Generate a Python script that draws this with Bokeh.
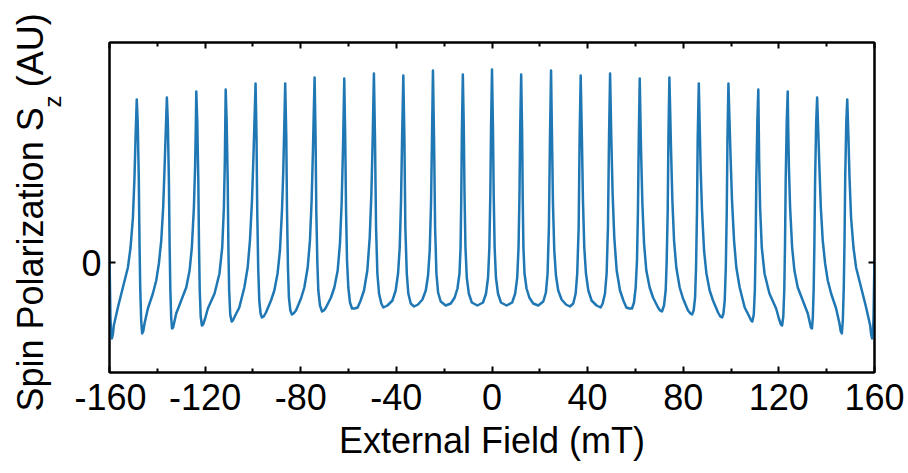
from bokeh.plotting import figure
from bokeh.layouts import row
from bokeh.models import FixedTicker, LinearAxis, Label, Range1d, ColumnDataSource, Title
from bokeh.embed import file_html
from bokeh.resources import INLINE

# ---- data (External field in mT, Sz in AU) ----
field_left = [
    -160.0, -159.6, -159.3, -159.0, -158.6, -158.2, -156.5, -154.4, -152.3, -151.2, -150.2, -149.55, -149.1, -148.6,
    -148.2, -147.75, -147.45, -147.15, -146.75, -146.35, -145.9, -145.35, -143.95, -141.85, -140.45, -139.35, -138.35, -137.55, -137.0, -136.5, -136.0,
    -135.6, -135.15, -134.85, -134.55, -134.2, -133.85, -133.4, -132.1, -130.0, -127.9, -126.5, -125.55, -124.7, -124.2, -123.9, -123.7,
    -123.3, -122.85, -122.55, -122.25, -121.85, -121.35, -120.85, -120.0, -118.85, -116.05, -114.0, -112.85, -112.15, -111.75, -111.4,
    -111.0, -110.55, -110.25, -109.95, -109.5, -108.9, -108.4, -107.2, -105.7, -103.6, -102.2, -101.25, -100.4, -99.8, -99.35, -98.9,
    -98.5, -98.2, -97.8, -97.35, -96.8, -96.25, -95.5, -94.55, -92.45, -91.05, -89.7, -88.7, -87.85, -87.3, -86.9, -86.5,
    -86.05, -85.75, -85.35, -84.95, -84.35, -83.7, -83.0, -82.0, -79.9, -78.5, -77.1, -76.15, -75.45, -74.9, -74.55, -74.2,
    -73.8, -73.5, -73.05, -72.65, -71.95, -71.1, -70.3, -69.45, -67.35, -65.95, -64.55, -63.6, -62.9, -62.35, -62.05, -61.8,
    -61.4, -61.05, -60.65, -60.1, -59.4, -58.55, -57.5, -56.2, -54.95, -53.55, -52.15, -51.15, -50.45, -49.9, -49.4,
    -48.95, -48.5, -47.95, -47.25, -46.3, -45.45, -43.75, -41.65, -40.3, -39.3, -38.6, -38.05, -37.6, -37.1,
    -36.65, -36.25, -35.65, -35.0, -34.0, -32.6, -30.95, -29.1, -27.7, -26.75, -26.05, -25.5, -25.1, -24.7,
    -24.25, -23.8, -23.25, -22.55, -21.45, -19.35, -17.25, -15.6, -14.45, -13.6, -13.15, -12.85, -12.6, -12.2,
    -11.8, -11.5, -11.1, -10.55, -9.7, -8.45, -6.1, -3.75, -2.5, -1.65, -1.1, -0.7, -0.4, 0.0,
]
sz_left = [
    0.05, -0.55, -0.73, -0.76, -0.72, -0.63, -0.45, -0.25, -0.05, 0.15, 0.45, 0.85, 1.25, 1.63,
    1.40, 0.85, 0.20, -0.25, -0.58, -0.71, -0.69, -0.61, -0.46, -0.31, -0.18, -0.01, 0.22, 0.55, 0.92, 1.29, 1.65,
    1.40, 0.82, 0.17, -0.27, -0.55, -0.66, -0.65, -0.51, -0.38, -0.25, -0.08, 0.15, 0.55, 0.95, 1.35, 1.71,
    1.42, 0.82, 0.15, -0.28, -0.54, -0.63, -0.62, -0.56, -0.46, -0.31, -0.11, 0.15, 0.55, 1.02, 1.73,
    1.42, 0.80, 0.12, -0.28, -0.52, -0.59, -0.58, -0.52, -0.45, -0.25, -0.05, 0.22, 0.62, 1.05, 1.42, 1.79,
    1.25, 0.52, -0.05, -0.38, -0.51, -0.55, -0.54, -0.50, -0.38, -0.28, -0.11, 0.12, 0.52, 0.92, 1.35, 1.79,
    1.25, 0.52, -0.05, -0.35, -0.48, -0.52, -0.51, -0.48, -0.36, -0.25, -0.05, 0.22, 0.62, 1.12, 1.50, 1.85,
    1.25, 0.52, -0.01, -0.28, -0.43, -0.49, -0.48, -0.45, -0.35, -0.25, -0.08, 0.19, 0.59, 1.12, 1.50, 1.84,
    1.25, 0.52, 0.02, -0.25, -0.40, -0.46, -0.46, -0.45, -0.38, -0.28, -0.08, 0.25, 0.69, 1.25, 1.89,
    1.25, 0.35, -0.11, -0.31, -0.41, -0.45, -0.43, -0.38, -0.28, -0.11, 0.15, 0.62, 1.25, 1.87,
    1.25, 0.35, -0.11, -0.31, -0.41, -0.44, -0.42, -0.37, -0.28, -0.13, 0.12, 0.59, 1.25, 1.92,
    1.25, 0.35, -0.11, -0.30, -0.39, -0.43, -0.41, -0.35, -0.26, -0.11, 0.15, 0.65, 1.30, 1.88,
    1.35, 0.69, 0.15, -0.15, -0.31, -0.40, -0.43, -0.40, -0.31, -0.15, 0.15, 0.69, 1.35, 1.93,
]
field_right = [
    0.4, 0.7, 1.1, 1.65, 2.5, 3.75, 6.1, 8.45, 9.7, 10.55, 11.1, 11.5, 11.8, 12.2,
    12.6, 12.85, 13.15, 13.6, 14.45, 15.6, 17.25, 19.35, 21.45, 22.55, 23.25, 23.8, 24.25, 24.7,
    25.1, 25.5, 26.05, 26.75, 27.7, 29.1, 30.95, 32.6, 34.0, 35.0, 35.65, 36.25, 36.65, 37.1,
    37.6, 38.05, 38.6, 39.3, 40.3, 41.65, 43.75, 45.45, 46.3, 47.25, 47.95, 48.5, 48.95, 49.4,
    49.9, 50.45, 51.15, 52.15, 53.55, 54.95, 56.2, 57.5, 58.55, 59.4, 60.1, 60.65, 61.05, 61.4, 61.8,
    62.05, 62.35, 62.9, 63.6, 64.55, 65.95, 67.35, 69.45, 70.3, 71.1, 71.95, 72.65, 73.05, 73.5, 73.8, 74.2,
    74.55, 74.9, 75.45, 76.15, 77.1, 78.5, 79.9, 82.0, 83.0, 83.7, 84.35, 84.95, 85.35, 85.75, 86.05, 86.5,
    86.9, 87.3, 87.85, 88.7, 89.7, 91.05, 92.45, 94.55, 95.5, 96.25, 96.8, 97.35, 97.8, 98.2, 98.5, 98.9,
    99.35, 99.8, 100.4, 101.25, 102.2, 103.6, 105.7, 107.2, 108.4, 108.9, 109.5, 109.95, 110.25, 110.55, 111.0, 111.4,
    111.75, 112.15, 112.85, 114.0, 116.05, 118.85, 120.0, 120.85, 121.35, 121.85, 122.25, 122.55, 122.85, 123.3, 123.7,
    123.9, 124.2, 124.7, 125.55, 126.5, 127.9, 130.0, 132.1, 133.4, 133.85, 134.2, 134.55, 134.85, 135.15, 135.6, 136.0,
    136.5, 137.0, 137.55, 138.35, 139.35, 140.45, 141.85, 143.95, 145.35, 145.9, 146.35, 146.75, 147.15, 147.45, 147.75, 148.2, 148.6,
    149.1, 149.55, 150.2, 151.2, 152.3, 154.4, 156.5, 158.2, 158.6, 159.0, 159.3, 159.6, 160.0,
]
sz_right = [
    1.35, 0.69, 0.15, -0.15, -0.31, -0.40, -0.43, -0.40, -0.31, -0.15, 0.15, 0.69, 1.35, 1.88,
    1.30, 0.65, 0.15, -0.11, -0.26, -0.35, -0.41, -0.43, -0.39, -0.30, -0.11, 0.35, 1.25, 1.92,
    1.25, 0.59, 0.12, -0.13, -0.28, -0.37, -0.42, -0.44, -0.41, -0.31, -0.11, 0.35, 1.25, 1.87,
    1.25, 0.62, 0.15, -0.11, -0.28, -0.38, -0.43, -0.45, -0.41, -0.31, -0.11, 0.35, 1.25, 1.89,
    1.25, 0.69, 0.25, -0.08, -0.28, -0.38, -0.45, -0.46, -0.46, -0.40, -0.25, 0.02, 0.52, 1.25, 1.84,
    1.50, 1.12, 0.59, 0.19, -0.08, -0.25, -0.35, -0.45, -0.48, -0.49, -0.43, -0.28, -0.01, 0.52, 1.25, 1.85,
    1.50, 1.12, 0.62, 0.22, -0.05, -0.25, -0.36, -0.48, -0.51, -0.52, -0.48, -0.35, -0.05, 0.52, 1.25, 1.79,
    1.35, 0.92, 0.52, 0.12, -0.11, -0.28, -0.38, -0.50, -0.54, -0.55, -0.51, -0.38, -0.05, 0.52, 1.25, 1.79,
    1.42, 1.05, 0.62, 0.22, -0.05, -0.25, -0.45, -0.52, -0.58, -0.59, -0.52, -0.28, 0.12, 0.80, 1.42, 1.73,
    1.02, 0.55, 0.15, -0.11, -0.31, -0.46, -0.56, -0.62, -0.63, -0.54, -0.28, 0.15, 0.82, 1.42, 1.71,
    1.35, 0.95, 0.55, 0.15, -0.08, -0.25, -0.38, -0.51, -0.65, -0.66, -0.55, -0.27, 0.17, 0.82, 1.40, 1.65,
    1.29, 0.92, 0.55, 0.22, -0.01, -0.18, -0.31, -0.46, -0.61, -0.69, -0.71, -0.58, -0.25, 0.20, 0.85, 1.40, 1.63,
    1.25, 0.85, 0.45, 0.15, -0.05, -0.25, -0.45, -0.63, -0.72, -0.76, -0.73, -0.55, 0.05,
]

x_ticks = [-160, -120, -80, -40, 0, 40, 80, 120, 160]
x_minor_ticks = [-140, -100, -60, -20, 20, 60, 100, 140]
x_tick_labels = ["-160", "-120", "-80", "-40", "0", "40", "80", "120", "160"]
y_ticks = [0]
y_tick_labels = ["0"]

FONT = "Liberation Sans"
BLUE = "#1f77b4"
W, H = 908, 473
TITLE_W = 74                 # strip that holds the rotated y-axis title
TOP, BOTTOM, RIGHT = 42, 101, 34
STRIP_FRAME_LEFT = 30

source = ColumnDataSource(data=dict(field=field_left + field_right, sz=sz_left + sz_right))

p = figure(width=W - TITLE_W, height=H, x_range=Range1d(-160, 160), y_range=Range1d(-1.1, 2.2),
           output_backend="svg", toolbar_location=None,
           min_border_left=109 - TITLE_W, min_border_right=RIGHT,
           min_border_top=TOP, min_border_bottom=BOTTOM)
p.grid.visible = False
p.background_fill_color = "white"
p.border_fill_color = "white"
p.outline_line_color = "black"
p.outline_line_width = 2

p.line("field", "sz", source=source, line_color=BLUE, line_width=2.5, line_join="round")


def style_axis(ax, ticks, minor, labels, show_labels):
    ax.ticker = FixedTicker(ticks=ticks, minor_ticks=minor)
    ax.axis_line_color = "black"
    ax.axis_line_width = 2
    ax.major_tick_in = 6
    ax.major_tick_out = 0
    ax.minor_tick_in = 4
    ax.minor_tick_out = 0
    ax.major_tick_line_width = 2
    ax.minor_tick_line_width = 2
    ax.major_tick_line_color = "black"
    ax.minor_tick_line_color = "black"
    if show_labels:
        ax.major_label_overrides = {t: s for t, s in zip(ticks, labels)}
        ax.major_label_text_font = FONT
        ax.major_label_text_font_size = "36px"
        ax.major_label_text_color = "black"
        ax.major_label_standoff = 11
    else:
        ax.major_label_overrides = {t: "" for t in ticks}
        ax.major_label_text_font_size = "0px"
        ax.major_label_standoff = 0


xb = p.xaxis[0]
style_axis(xb, x_ticks, x_minor_ticks, x_tick_labels, True)
xb.axis_label = "External Field (mT)"
xb.axis_label_text_font = FONT
xb.axis_label_text_font_size = "36px"
xb.axis_label_text_font_style = "normal"
xb.axis_label_text_color = "black"
xb.axis_label_standoff = 7

yl = p.yaxis[0]
style_axis(yl, y_ticks, [], y_tick_labels, True)
yl.major_label_standoff = 8

xt = LinearAxis()
style_axis(xt, x_ticks, x_minor_ticks, x_tick_labels, False)
p.add_layout(xt, "above")

yr = LinearAxis()
style_axis(yr, y_ticks, [], y_tick_labels, False)
p.add_layout(yr, "right")

# ---- strip on the left holding the rotated y-axis title "Spin Polarization S_z (AU)" ----
t = figure(width=TITLE_W, height=H, x_range=Range1d(0, 1), y_range=Range1d(0, 1),
           output_backend="svg", toolbar_location=None,
           x_axis_location=None, y_axis_location=None,
           min_border_left=STRIP_FRAME_LEFT, min_border_right=0,
           min_border_top=TOP, min_border_bottom=BOTTOM)
t.grid.visible = False
t.outline_line_color = None
t.background_fill_color = "white"
t.border_fill_color = "white"

ytitle = Title(text="Spin Polarization S\u00a0 (AU)", align="left", vertical_align="bottom",
               offset=-39, standoff=-41,
               text_font=FONT, text_font_size="36px", text_font_style="normal",
               text_color="black")
t.add_layout(ytitle, "left")

sub = Label(x=52 - STRIP_FRAME_LEFT, y=(H - BOTTOM) - 107, x_units="screen", y_units="screen",
            text="z", angle=90, angle_units="deg",
            text_font=FONT, text_font_size="24px", text_color="black",
            text_align="left", text_baseline="alphabetic")
t.add_layout(sub)

layout = row(t, p, spacing=0)
open("out.html", "w").write(file_html(layout, INLINE))
